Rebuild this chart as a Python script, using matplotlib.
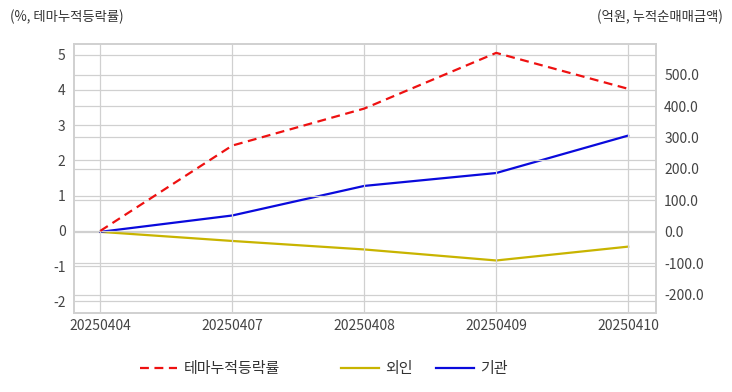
import matplotlib
matplotlib.use("Agg")
import matplotlib.pyplot as plt
from matplotlib.ticker import FuncFormatter, FixedLocator

plt.rcParams['font.family'] = ['Noto Sans CJK KR', 'DejaVu Sans']
plt.rcParams['axes.unicode_minus'] = False

dates = ["20250404", "20250407", "20250408", "20250409", "20250410"]
theme_pct = [0.0, 2.42, 3.47, 5.05, 4.03]
foreign = [0.0, -29, -56, -91, -47]
institution = [0.0, 52, 146, 187, 306]

fig = plt.figure(figsize=(7.32, 3.92), dpi=100)
ax = fig.add_axes([0.101, 0.2015, 0.795, 0.687])
ax2 = ax.twinx()

grid_c = "#d0d0d0"
x = list(range(len(dates)))

l1, = ax.plot(x, theme_pct, color="#ee1111", linestyle=(0, (4, 2.5)), linewidth=1.6, label="테마누적등락률")
l2, = ax2.plot(x, foreign, color="#c8b400", linewidth=1.6, label="외인")
l3, = ax2.plot(x, institution, color="#0a0adc", linewidth=1.6, label="기관")

ax.set_xlim(-0.2, 4.21)
ax.set_ylim(-2.33, 5.31)
ax2.set_ylim(-258, 598)
ax.set_xticks(x)
ax.set_xticklabels(dates)
ax.yaxis.set_major_locator(FixedLocator([-2, -1, 0, 1, 2, 3, 4, 5]))
ax2.yaxis.set_major_locator(FixedLocator([-200, -100, 0, 100, 200, 300, 400, 500]))
ax2.yaxis.set_major_formatter(FuncFormatter(lambda v, p: f"{v:.1f}"))

for a in (ax, ax2):
    a.tick_params(length=0, labelsize=10, labelcolor="#444444", pad=6)
    for s in a.spines.values():
        s.set_color(grid_c)
        s.set_linewidth(1.2)
ax.grid(True, color=grid_c, linewidth=0.9)
ax2.grid(True, axis="y", color=grid_c, linewidth=0.9)
ax.set_zorder(1)
ax.patch.set_visible(False)
ax2.set_zorder(0)
ax.tick_params(axis="x", pad=4)

fig.text(0.013, 0.958, "(%, 테마누적등락률)", fontsize=9.6, color="#333333", ha="left", va="center")
fig.text(0.987, 0.958, "(억원, 누적순매매금액)", fontsize=9.6, color="#333333", ha="right", va="center")

for h, xpos in ((l1, 0.191), (l2, 0.466), (l3, 0.596)):
    fig.legend(handles=[h], loc="center left", bbox_to_anchor=(xpos, 0.058),
               frameon=False, fontsize=10.8, handlelength=2.5, handletextpad=0.45,
               borderpad=0, borderaxespad=0, labelcolor="#333333")

fig.savefig("out.png", dpi=100)
